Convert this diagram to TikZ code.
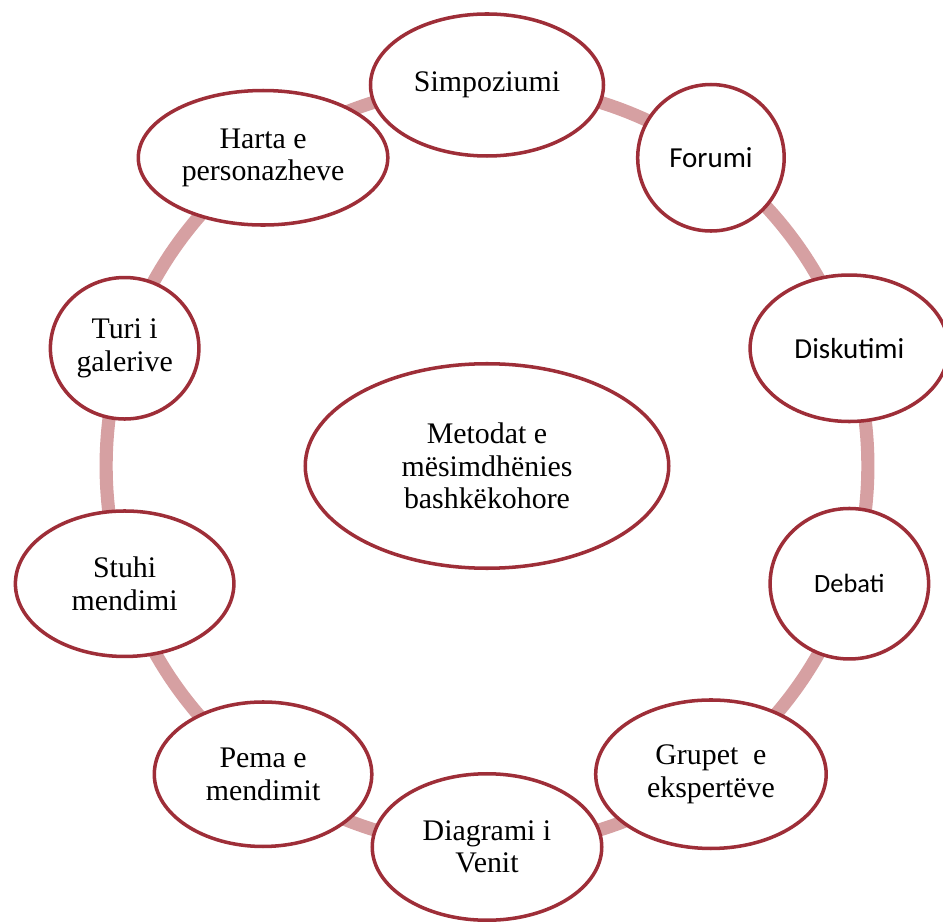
\documentclass[tikz,border=0pt]{standalone}
\usepackage{fontspec}
\setmainfont{Liberation Serif}
\newfontfamily\calfont{Carlito}
\usetikzlibrary{shapes,backgrounds}
\definecolor{rimred}{RGB}{158,46,56}
\definecolor{ringpink}{RGB}{214,160,162}

\begin{document}
\begin{tikzpicture}[meth/.style={ellipse,draw=rimred,line width=2pt,fill=white,inner sep=0pt,align=center,font=\fontsize{17}{18.5}\selectfont},
        sans/.style={font=\calfont\fontsize{16.5}{18}\selectfont},
        ring/.style={ringpink,line width=7.5pt}]
            \useasboundingbox (-9.74,-9.10) rectangle (9.12,9.32);

            \node[meth,minimum width=7.27cm,minimum height=4.09cm] (centre) at (0,0) {Metodat e\\mësimdhënies\\bashkëkohore};

            \node[meth,minimum width=4.66cm,minimum height=2.84cm] (simp)   at (90:7.62)   {Simpoziumi};
            \node[meth,sans,minimum width=2.93cm,minimum height=2.93cm] (forum) at (54:7.62) {Forumi};
            \node[meth,sans,minimum width=3.97cm,minimum height=2.93cm] (disk)  at (18:7.62) {Diskutimi};
            \node[meth,sans,font=\calfont\fontsize{15}{17}\selectfont,minimum width=3.17cm,minimum height=3.01cm] (debati) at (-18:7.62) {Debati};
            \node[meth,minimum width=4.61cm,minimum height=2.97cm] (grupet) at (-54:7.62)  {Grupet\ \ e\\ekspertëve};
            \node[meth,minimum width=4.59cm,minimum height=2.93cm] (diag)   at (-90:7.62)  {Diagrami i\\Venit};
            \node[meth,minimum width=4.35cm,minimum height=2.89cm] (pema)   at (-126:7.62) {Pema e\\mendimit};
            \node[meth,minimum width=4.37cm,minimum height=2.91cm] (stuhi)  at (-162:7.62) {Stuhi\\mendimi};
            \node[meth,minimum width=2.97cm,minimum height=2.83cm] (turi)   at (162:7.62)  {Turi i\\galerive};
            \node[meth,minimum width=4.99cm,minimum height=2.69cm] (harta)  at (126:7.62)  {Harta e\\personazheve};

            \begin{scope}[on background layer,bend left=18,looseness=.87]
                \draw[ring] (simp.center) to (forum.center);
                \draw[ring] (forum.center) to (disk.center);
                \draw[ring] (disk.center) to (debati.center);
                \draw[ring] (debati.center) to (grupet.center);
                \draw[ring] (grupet.center) to (diag.center);
                \draw[ring] (diag.center) to (pema.center);
                \draw[ring] (pema.center) to (stuhi.center);
                \draw[ring] (stuhi.center) to (turi.center);
                \draw[ring] (turi.center) to (harta.center);
                \draw[ring] (harta.center) to (simp.center);
            \end{scope}
        \end{tikzpicture}
\end{document}
